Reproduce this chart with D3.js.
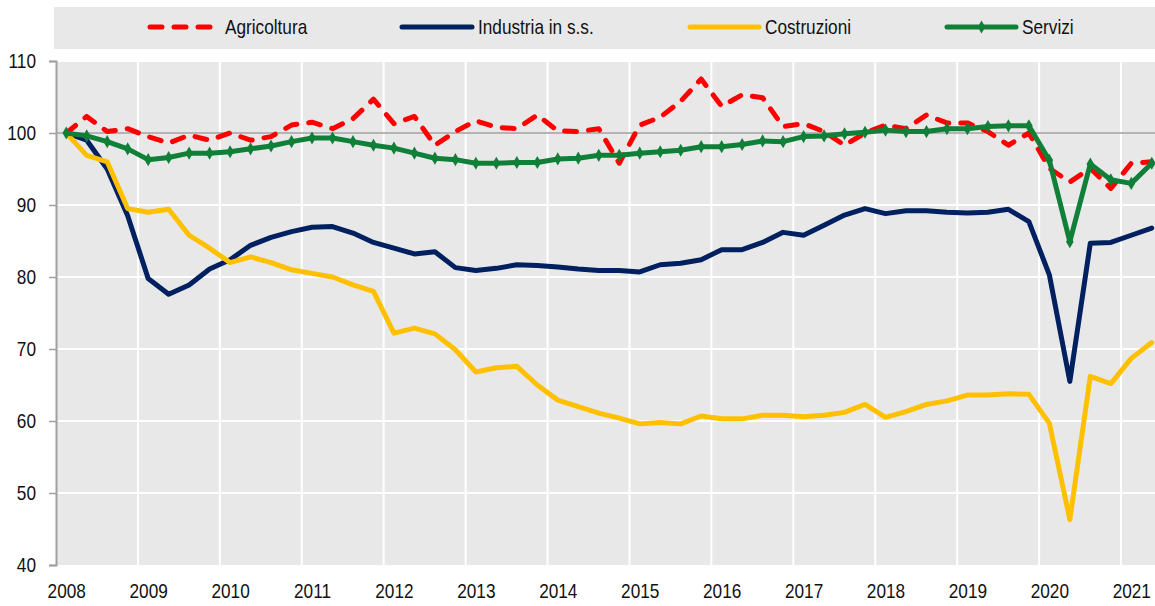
<!DOCTYPE html>
<html>
<head>
<meta charset="utf-8">
<script src="https://cdn.jsdelivr.net/npm/d3@7"></script>
<style>
  body { margin: 0; background: #fff; }
  svg { display: block; font-family: "Liberation Sans", Arial, sans-serif; }
</style>
</head>
<body>
<div id="grafico"></div>
<script>
// trimestri 2008T1 - 2021T2
const anni = ["2008","2009","2010","2011","2012","2013","2014","2015","2016","2017","2018","2019","2020","2021"]
const trimestri = [
  "2008T1","2008T2","2008T3","2008T4","2009T1","2009T2","2009T3","2009T4",
  "2010T1","2010T2","2010T3","2010T4","2011T1","2011T2","2011T3","2011T4",
  "2012T1","2012T2","2012T3","2012T4","2013T1","2013T2","2013T3","2013T4",
  "2014T1","2014T2","2014T3","2014T4","2015T1","2015T2","2015T3","2015T4",
  "2016T1","2016T2","2016T3","2016T4","2017T1","2017T2","2017T3","2017T4",
  "2018T1","2018T2","2018T3","2018T4","2019T1","2019T2","2019T3","2019T4",
  "2020T1","2020T2","2020T3","2020T4","2021T1","2021T2"
]

const agricoltura = [
  100.0, 102.3, 100.2, 100.6, 99.5, 98.6, 99.7, 99.0, 100.0, 99.0,
  99.5, 101.1, 101.5, 100.6, 102.0, 104.7, 101.3, 102.3, 98.3, 100.2,
  101.7, 100.8, 100.6, 102.5, 100.3, 100.2, 100.6, 95.8, 101.1, 102.2,
  104.4, 107.5, 103.7, 105.3, 104.9, 100.9, 101.3, 100.2, 98.3, 100.0,
  101.1, 100.6, 102.5, 101.4, 101.4, 100.2, 98.3, 100.0, 95.1, 93.2,
  95.1, 92.3, 95.8, 96.0
]
const industria = [
  100.0, 99.0, 95.0, 88.5, 79.8, 77.6, 78.9, 81.1, 82.4, 84.4,
  85.5, 86.3, 86.9, 87.0, 86.1, 84.8, 84.0, 83.2, 83.5, 81.3,
  80.9, 81.2, 81.7, 81.6, 81.4, 81.1, 80.9, 80.9, 80.7, 81.7,
  81.9, 82.4, 83.8, 83.8, 84.8, 86.2, 85.8, 87.2, 88.6, 89.5,
  88.8, 89.2, 89.2, 89.0, 88.9, 89.0, 89.4, 87.7, 80.3, 65.5,
  84.7, 84.8, 85.8, 86.8
]
const costruzioni = [
  100.0, 96.9, 96.0, 89.5, 89.0, 89.4, 85.8, 84.0, 82.0, 82.8,
  82.0, 81.0, 80.5, 80.0, 78.9, 78.0, 72.2, 72.9, 72.1, 69.9,
  66.8, 67.4, 67.6, 65.0, 62.9, 62.0, 61.1, 60.4, 59.6, 59.8,
  59.6, 60.7, 60.3, 60.3, 60.8, 60.8, 60.6, 60.8, 61.2, 62.3,
  60.5, 61.3, 62.3, 62.8, 63.6, 63.6, 63.8, 63.7, 59.7, 46.3,
  66.2, 65.2, 68.7, 70.9
]
const servizi = [
  100.0, 99.6, 98.8, 97.8, 96.3, 96.6, 97.2, 97.2, 97.4, 97.8,
  98.2, 98.8, 99.3, 99.3, 98.8, 98.3, 97.9, 97.2, 96.5, 96.3,
  95.8, 95.8, 95.9, 95.9, 96.4, 96.5, 96.9, 96.9, 97.2, 97.4,
  97.6, 98.1, 98.1, 98.4, 98.9, 98.8, 99.5, 99.6, 99.9, 100.1,
  100.4, 100.2, 100.2, 100.6, 100.6, 100.9, 101.0, 101.0, 96.2, 84.9,
  95.7, 93.5, 93.0, 95.8
]
const yTicks = [40, 50, 60, 70, 80, 90, 100, 110]

const serie = [
  { nome: "Agricoltura", valori: agricoltura, colore: "#ff0000", tratteggio: "12,12", rombi: false },
  { nome: "Industria in s.s.", valori: industria, colore: "#002060", tratteggio: null, rombi: false },
  { nome: "Costruzioni", valori: costruzioni, colore: "#ffc000", tratteggio: null, rombi: false },
  { nome: "Servizi", valori: servizi, colore: "#107f38", tratteggio: null, rombi: true },
]

// font stretto: Liberation Sans compresso in orizzontale
const STRETTO = 0.82
const DIM_FONT = 21

// dimenzije
const dim = {
  sirina: 1155,
  visina: 606,
  margine: { top: 61, right: -7, bottom: 41, left: 56 },
}
dim.grSirina = dim.sirina - dim.margine.left - dim.margine.right
dim.grVisina = dim.visina - dim.margine.top - dim.margine.bottom

const svg = d3.select("#grafico").append("svg")
    .attr("width", dim.sirina)
    .attr("height", dim.visina)

// legenda
const legenda = svg.append("g")
legenda.append("rect")
    .attr("x", 54).attr("y", 7)
    .attr("width", 1110).attr("height", 42)
    .attr("fill", "#e8e8e8")

const legPos = [
  { x1: 150, x2: 210, tx: 225 },
  { x1: 402, x2: 472, tx: 478 },
  { x1: 690, x2: 759, tx: 765 },
  { x1: 947, x2: 1016, tx: 1022 },
]
serie.forEach((s, i) => {
  const p = legPos[i]
  legenda.append("line")
      .attr("x1", p.x1).attr("x2", p.x2)
      .attr("y1", 27).attr("y2", 27)
      .attr("stroke", s.colore)
      .attr("stroke-width", 5)
      .attr("stroke-linecap", "round")
      .attr("stroke-dasharray", s.tratteggio)
  if (s.rombi) {
    legenda.append("path")
        .attr("transform", `translate(${(p.x1 + p.x2) / 2},27)`)
        .attr("d", d3.symbol(d3.symbolDiamond, 50)())
        .attr("fill", s.colore)
  }
  legenda.append("text")
      .attr("transform", `translate(${p.tx},34) scale(${STRETTO},1)`)
      .attr("font-size", DIM_FONT)
      .attr("fill", "#111")
      .text(s.nome)
})

const granice = svg.append("g")
    .attr("transform", `translate(${dim.margine.left},${dim.margine.top})`)

// razmjeri
const xSkala = d3.scalePoint()
  .domain(trimestri)
  .range([0, dim.grSirina])
  .padding(0.5)

const ySkala = d3.scaleLinear()
  .domain([40, 110])
  .range([dim.grVisina, 0])

const korak = xSkala.step()

granice.append("rect")
    .attr("width", dim.grSirina)
    .attr("height", dim.grVisina)
    .attr("fill", "#e8e8e8")

// mreza
granice.append("g")
  .selectAll("line")
  .data(yTicks.filter(d => d !== 40 && d !== 100))
  .join("line")
    .attr("x1", 0).attr("x2", dim.grSirina)
    .attr("y1", d => ySkala(d)).attr("y2", d => ySkala(d))
    .attr("stroke", "#fff").attr("stroke-width", 2)

granice.append("g")
  .selectAll("line")
  .data(anni.slice(1))
  .join("line")
    .attr("x1", d => xSkala(d + "T1") - korak / 2)
    .attr("x2", d => xSkala(d + "T1") - korak / 2)
    .attr("y1", 0).attr("y2", dim.grVisina)
    .attr("stroke", "#fff").attr("stroke-width", 2)

granice.append("line")
    .attr("x1", 0).attr("x2", dim.grSirina)
    .attr("y1", ySkala(100)).attr("y2", ySkala(100))
    .attr("stroke", "#b4b4b4").attr("stroke-width", 2)

// osi
const yOs = granice.append("g")
    .call(d3.axisLeft(ySkala).tickValues(yTicks).tickSize(7).tickPadding(13))
yOs.select(".domain").attr("stroke", "#a0a0a0").attr("stroke-width", 2)
yOs.selectAll(".tick line").attr("stroke", "#a0a0a0").attr("stroke-width", 1.5)
yOs.selectAll(".tick text")
    .attr("font-size", DIM_FONT)
    .attr("font-family", null)
    .attr("fill", "#111")
    .attr("x", -20 / STRETTO)
    .attr("transform", `scale(${STRETTO},1)`)

const xOs = granice.append("g")
    .attr("transform", `translate(0,${dim.grVisina})`)
    .call(d3.axisBottom(xSkala)
      .tickValues(anni.map(a => a + "T1"))
      .tickFormat(d => d.slice(0, 4))
      .tickSize(0)
      .tickPadding(18))
xOs.select(".domain").remove()
xOs.selectAll(".tick text")
    .attr("font-size", DIM_FONT)
    .attr("font-family", null)
    .attr("fill", "#111")
    .attr("transform", `scale(${STRETTO},1)`)

// linije
const generatorLinije = d3.line()
  .x((d, i) => xSkala(trimestri[i]))
  .y(d => ySkala(d))

serie.forEach(s => {
  granice.append("path")
      .attr("d", generatorLinije(s.valori))
      .attr("fill", "none")
      .attr("stroke", s.colore)
      .attr("stroke-width", 5)
      .attr("stroke-linejoin", "round")
      .attr("stroke-linecap", "round")
      .attr("stroke-dasharray", s.tratteggio)
  if (s.rombi) {
    granice.append("g")
      .selectAll("path")
      .data(s.valori)
      .join("path")
        .attr("transform", (d, i) => `translate(${xSkala(trimestri[i])},${ySkala(d)})`)
        .attr("d", d3.symbol(d3.symbolDiamond, 50)())
        .attr("fill", s.colore)
  }
})
</script>
</body>
</html>
